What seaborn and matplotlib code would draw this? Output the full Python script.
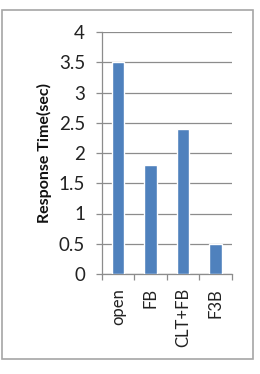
import matplotlib
matplotlib.use("Agg")
import matplotlib.pyplot as plt
import seaborn as sns
import pandas as pd
from matplotlib.patches import Rectangle

categories = ["open", "FB", "CLT+FB", "F3B"]
values = [3.5, 1.8, 2.4, 0.5]
yticks = [0, 0.5, 1, 1.5, 2, 2.5, 3, 3.5, 4]
ytick_labels = ["0", "0.5", "1", "1.5", "2", "2.5", "3", "3.5", "4"]

sns.set_theme(style="white")
plt.rcParams['font.family'] = ['Lato', 'DejaVu Sans']

df = pd.DataFrame({"cat": categories, "val": values})

fig = plt.figure(figsize=(2.6, 3.74), dpi=100)
fig.patches.append(Rectangle((2/260, 1-359/374), 251/260, 349/374, transform=fig.transFigure,
                             fill=False, edgecolor="#a6a6a6", linewidth=1.2))
ax = fig.add_axes([101.7/260, 1-274/374, 130/260, 242/374])
sns.barplot(data=df, x="cat", y="val", color="#4f81bd", saturation=1, width=0.38, ax=ax, zorder=3)
ax.set_ylim(0, 4)
ax.set_xlim(-0.5, 3.5)
ax.set_yticks(yticks)
ax.set_yticklabels(ytick_labels, fontsize=13.5, color="#222222")
ax.yaxis.grid(True, color="#8c8c8c", linewidth=0.9, zorder=0)
ax.set_axisbelow(True)
ax.set_xticks(range(len(categories)))
ax.set_xticklabels(categories, rotation=90, fontsize=12, color="#222222")
ax.tick_params(axis="x", length=0, pad=10)
ax.tick_params(axis="y", length=4, width=0.9, color="#8c8c8c", left=True, pad=8)
ax.set_xticks([-0.5, 0.5, 1.5, 2.5, 3.5], minor=True)
ax.tick_params(axis="x", which="minor", length=4, width=0.9, color="#8c8c8c", bottom=True)
for s in ["top", "right"]:
    ax.spines[s].set_visible(False)
for s in ["left", "bottom"]:
    ax.spines[s].set_color("#8c8c8c")
    ax.spines[s].set_linewidth(0.9)
ax.set_xlabel("")
ax.set_ylabel("Response Time(sec)", fontsize=11.5, fontweight="bold", labelpad=5, color="#111111")
fig.savefig("out.png", dpi=100)
